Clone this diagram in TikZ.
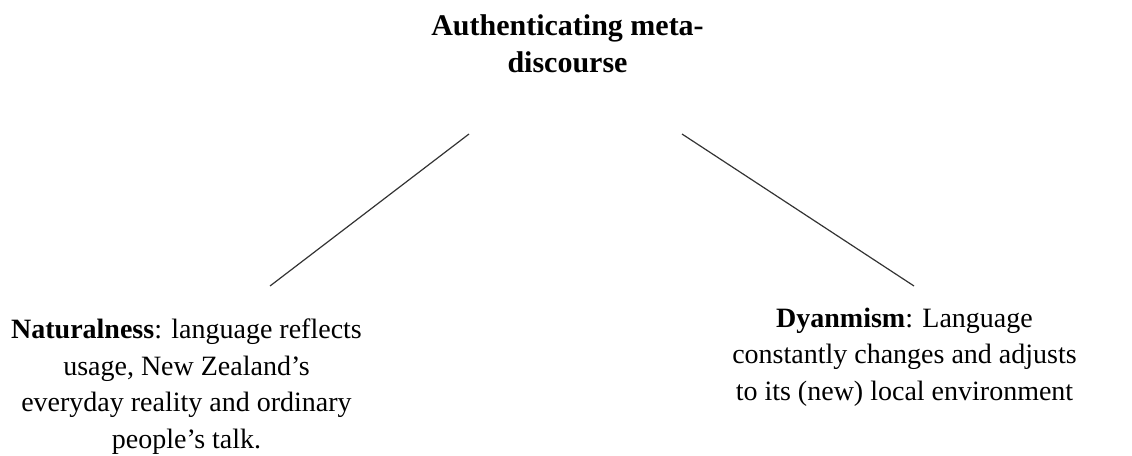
\documentclass[tikz,border=0pt]{standalone}
\usepackage{fontspec}
\setmainfont{Liberation Serif}
\begin{document}
\begin{tikzpicture}[x=1pt,y=-1pt,
  txt/.style={inner sep=0pt, align=center, anchor=north,
    font=\fontsize{28}{36.5}\selectfont},
  branch/.style={line width=1.2pt, draw=black!80}]
\useasboundingbox (0,0) rectangle (1132,455);
% root concept
\node[txt, font=\fontsize{30}{37}\selectfont\bfseries] (root) at (567.5,14.5)
  {Authenticating meta-\\discourse};
% two properties
\node[txt] (nat) at (186.5,319)
  {\textbf{Naturalness}: language reflects\\usage, New Zealand’s\\everyday reality and ordinary\\people’s talk.};
\node[txt] (dyn) at (904.5,307.5)
  {\textbf{Dyanmism}: Language\\constantly changes and adjusts\\to its (new) local environment};
% branch end points
\coordinate (rootL) at (469,134);
\coordinate (rootR) at (682,134);
\coordinate (natTop) at (270,286);
\coordinate (dynTop) at (914,286);
\draw[branch] (rootL) -- (natTop);
\draw[branch] (rootR) -- (dynTop);
\end{tikzpicture}
\end{document}
